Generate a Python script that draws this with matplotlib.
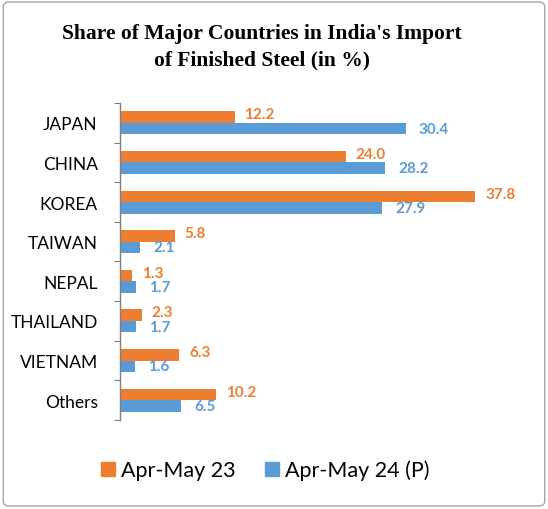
import numpy as np
import matplotlib
matplotlib.use("Agg")
import matplotlib.pyplot as plt
from matplotlib.patches import Patch, FancyBboxPatch

countries = ["JAPAN", "CHINA", "KOREA", "TAIWAN", "NEPAL", "THAILAND", "VIETNAM", "Others"]
apr_may_23 = [12.2, 24.0, 37.8, 5.8, 1.3, 2.3, 6.3, 10.2]
apr_may_24 = [30.4, 28.2, 27.9, 2.1, 1.7, 1.7, 1.6, 6.5]

ORANGE = "#ED7D31"
BLUE = "#5B9BD5"
AXGRAY = "#7F7F7F"

plt.rcParams["font.family"] = ["Lato", "DejaVu Sans"]

fig = plt.figure(figsize=(5.48, 5.10), dpi=100)
ax = fig.add_axes([0.219, 0.1745, 0.686, 0.6216])

y = np.arange(len(countries))
h = 0.29
ax.barh(y - h / 2, apr_may_23, height=h, color=ORANGE, label="Apr-May 23")
ax.barh(y + h / 2, apr_may_24, height=h, color=BLUE, label="Apr-May 24 (P)")

for yi, v in zip(y, apr_may_23):
    ax.annotate(f"{v:.1f}", (v, yi - h / 2), xytext=(7, 2), textcoords="offset points",
                ha="left", va="center", color=ORANGE, fontsize=11, fontweight="bold")
for yi, v in zip(y, apr_may_24):
    ax.annotate(f"{v:.1f}", (v, yi + h / 2), xytext=(9.5, 0), textcoords="offset points",
                ha="left", va="center", color=BLUE, fontsize=11, fontweight="bold")

ax.set_xlim(0, 40)
ax.set_ylim(len(countries) - 0.5, -0.5)
for s in ("top", "right", "bottom"):
    ax.spines[s].set_visible(False)
ax.spines["left"].set_color(AXGRAY)
ax.spines["left"].set_linewidth(1.0)
ax.set_xticks([])
ax.set_yticks(np.arange(len(countries) + 1) - 0.5)
ax.set_yticklabels([])
ax.tick_params(axis="y", which="major", length=4, color=AXGRAY, direction="out")
ax.set_yticks(y, minor=True)
ax.set_yticklabels(countries, minor=True, fontsize=12.5)
ax.tick_params(axis="y", which="minor", length=0, pad=16)

fig.text(0.478, 0.907, "Share of Major Countries in India's Import\nof Finished Steel (in %)",
         ha="center", va="center", family="Liberation Serif", fontweight="bold",
         fontsize=15.5, linespacing=1.45)

handles = [Patch(color=ORANGE), Patch(color=BLUE)]
fig.legend(handles, ["Apr-May 23", "Apr-May 24 (P)"], loc="center",
           bbox_to_anchor=(0.484, 0.0765), ncol=2, frameon=False, fontsize=15.5,
           handlelength=0.65, handleheight=0.65, handletextpad=0.25, columnspacing=1.4)

border = FancyBboxPatch((0.006, 0.006), 0.988, 0.988, boxstyle="round,pad=0,rounding_size=0.01",
                        transform=fig.transFigure, fill=False, edgecolor="#A6A6A6", linewidth=1.0)
fig.patches.append(border)

fig.savefig("out.png", dpi=100, facecolor="white")
